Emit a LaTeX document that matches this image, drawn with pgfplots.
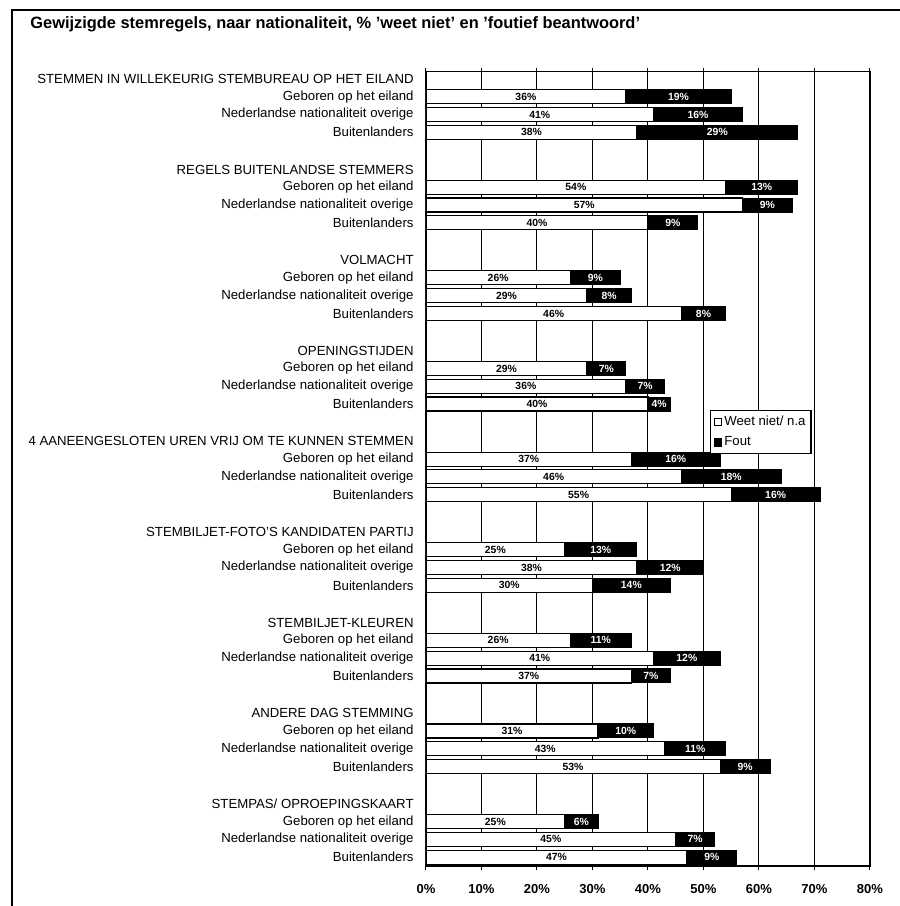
\documentclass[border=0pt]{standalone}
\usepackage{fontspec}
\setmainfont{Liberation Sans}
\usepackage{pgfplots}
\usepackage{pgfplotstable}
\pgfplotsset{compat=1.18}

\pgfplotstableread{
y w f
1 36 19
2 41 16
3 38 29
6.1 54 13
7.1 57 9
8.1 40 9
11.2 26 9
12.2 29 8
13.2 46 8
16.3 29 7
17.3 36 7
18.3 40 4
21.4 37 16
22.4 46 18
23.4 55 16
26.5 25 13
27.5 38 12
28.5 30 14
31.6 26 11
32.6 41 12
33.6 37 7
36.7 31 10
37.7 43 11
38.7 53 9
41.8 25 6
42.8 45 7
43.8 47 9
}\data

\begin{document}
\begin{tikzpicture}
\useasboundingbox (0,0) rectangle (450pt,-453pt);
\draw[line width=0.7pt] (6pt,-453pt) -- (6pt,-5pt) -- (450pt,-5pt);
\node[anchor=base west, font=\bfseries\fontsize{8.2}{9}\selectfont, inner sep=0pt] at (15pt,-14pt) {Gewijzigde stemregels, naar nationaliteit, \% 'weet niet' en 'foutief beantwoord'};
\begin{axis}[at={(213pt,-433pt)}, anchor=south west, scale only axis,
  width=222pt, height=397.2pt,
  xmin=0, xmax=80, ymin=-0.41, ymax=44.3, y dir=reverse,
  axis line style={line width=0.6pt},
  xtick={0,10,...,80}, xticklabel={\pgfmathprintnumber{\tick}\%},
  /pgf/number format/assume math mode=true,
  xmajorgrids, grid style={black, line width=0.5pt},
  tick align=outside, major tick length=2pt,
  xtick style={black, line width=0.5pt},
  ytick style={draw=none},
  xticklabel style={font=\bfseries\fontsize{6.5}{7}\selectfont, yshift=-3.5pt},
  yticklabel style={font=\fontsize{6.6}{7}\selectfont, inner sep=0pt, xshift=-4pt},
  ytick={0,1,2,3,5.1,6.1,7.1,8.1,10.2,11.2,12.2,13.2,15.3,16.3,17.3,18.3,20.4,21.4,22.4,23.4,25.5,26.5,27.5,28.5,30.6,31.6,32.6,33.6,35.7,36.7,37.7,38.7,40.8,41.8,42.8,43.8},
  yticklabels={STEMMEN IN WILLEKEURIG STEMBUREAU OP HET EILAND, Geboren op het eiland, Nederlandse nationaliteit overige, Buitenlanders,
    REGELS BUITENLANDSE STEMMERS, Geboren op het eiland, Nederlandse nationaliteit overige, Buitenlanders,
    VOLMACHT, Geboren op het eiland, Nederlandse nationaliteit overige, Buitenlanders,
    OPENINGSTIJDEN, Geboren op het eiland, Nederlandse nationaliteit overige, Buitenlanders,
    4 AANEENGESLOTEN UREN VRIJ OM TE KUNNEN STEMMEN, Geboren op het eiland, Nederlandse nationaliteit overige, Buitenlanders,
    STEMBILJET-FOTO'S KANDIDATEN PARTIJ, Geboren op het eiland, Nederlandse nationaliteit overige, Buitenlanders,
    STEMBILJET-KLEUREN, Geboren op het eiland, Nederlandse nationaliteit overige, Buitenlanders,
    ANDERE DAG STEMMING, Geboren op het eiland, Nederlandse nationaliteit overige, Buitenlanders,
    STEMPAS/ OPROEPINGSKAART, Geboren op het eiland, Nederlandse nationaliteit overige, Buitenlanders},
  legend style={at={(0.64,0.574)}, anchor=north west, draw=black, line width=0.6pt, fill=white,
    font=\fontsize{6.6}{7}\selectfont, inner sep=1.5pt, row sep=1.5pt,
    nodes={inner sep=1.2pt}},
  legend cell align=left,
]
\addlegendimage{legend image code/.code={\draw[fill=white, draw=black, line width=0.5pt] (0pt,-1.8pt) rectangle (3.6pt,1.8pt);}}
\addlegendentry{Weet niet/ n.a}
\addlegendimage{legend image code/.code={\draw[fill=black, draw=black, line width=0.5pt] (0pt,-1.8pt) rectangle (3.6pt,1.8pt);}}
\addlegendentry{Fout}

\addplot[xbar, bar width=7pt, bar shift=0pt, fill=black, draw=black, line width=0.5pt, forget plot]
  table[x expr=\thisrow{w}+\thisrow{f}, y=y] {\data};
\addplot[xbar, bar width=7pt, bar shift=0pt, fill=white, draw=black, line width=0.6pt, forget plot]
  table[x=w, y=y] {\data};
\addplot[draw=none, mark=none, forget plot, point meta=explicit,
  nodes near coords={\pgfmathprintnumber{\pgfplotspointmeta}\%},
  every node near coord/.append style={anchor=center, font=\bfseries\fontsize{5.2}{6}\selectfont, inner sep=0pt}]
  table[x expr=\thisrow{w}/2, y=y, meta=w] {\data};
\addplot[draw=none, mark=none, forget plot, point meta=explicit,
  nodes near coords={\pgfmathprintnumber{\pgfplotspointmeta}\%},
  every node near coord/.append style={anchor=center, text=white, font=\bfseries\fontsize{5.2}{6}\selectfont, inner sep=0pt}]
  table[x expr=\thisrow{w}+\thisrow{f}/2, y=y, meta=f] {\data};
\end{axis}
\end{tikzpicture}
\end{document}
